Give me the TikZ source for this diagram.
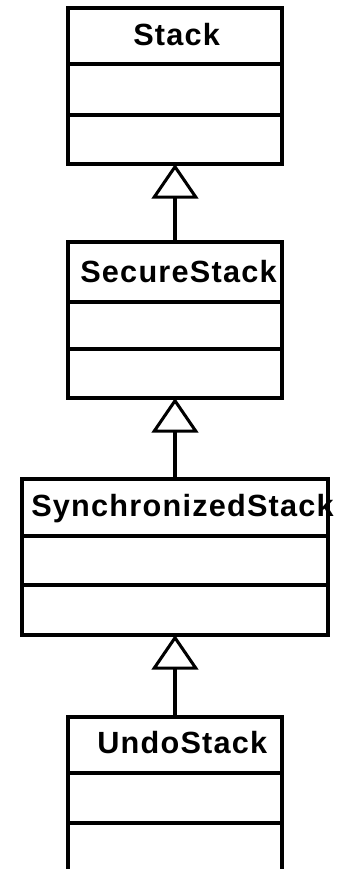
\documentclass[tikz,border=0pt]{standalone}
\usepackage{fontspec}
\setmainfont{Liberation Sans}
\newfontfamily\umlfont[LetterSpace=4]{Liberation Sans}
\usetikzlibrary{arrows.meta}
\tikzset{
  classbox/.style={draw, line width=2.3pt, outer sep=0pt, inner sep=0pt, minimum height=117pt},
  classname/.style={anchor=base west, inner sep=0pt, font=\umlfont\bfseries\fontsize{23pt}{23pt}\selectfont},
  compartment/.style={line width=2.3pt},
  inherit/.style={line width=2.3pt, -{Triangle[open, length=26pt, width=35pt]}}
}
\begin{document}
\begin{tikzpicture}[x=0.75pt,y=-0.75pt]
\clip (0,0) rectangle (344,869);
\node[classbox, minimum width=160.5pt] (stack)  at (175,86)  {};
\node[classbox, minimum width=160.5pt] (secure) at (175,320) {};
\node[classbox, minimum width=229.5pt] (sync)   at (175,557) {};
\node[classbox, minimum width=160.5pt] (undo)   at (175,795) {};
\draw[compartment] (stack.west |- 0,64)   -- (stack.east |- 0,64);
\draw[compartment] (stack.west |- 0,115)  -- (stack.east |- 0,115);
\draw[compartment] (secure.west |- 0,302) -- (secure.east |- 0,302);
\draw[compartment] (secure.west |- 0,349) -- (secure.east |- 0,349);
\draw[compartment] (sync.west |- 0,536)   -- (sync.east |- 0,536);
\draw[compartment] (sync.west |- 0,585)   -- (sync.east |- 0,585);
\draw[compartment] (undo.west |- 0,773)   -- (undo.east |- 0,773);
\draw[compartment] (undo.west |- 0,823)   -- (undo.east |- 0,823);
\node[classname] (stackname)  at (133,45)  {Stack};
\node[classname] (securename) at (80,282)  {SecureStack};
\node[classname] (syncname)   at (31,516)  {SynchronizedStack};
\node[classname] (undoname)   at (97,753)  {UndoStack};
\draw[inherit] (secure.north) -- (stack.south);
\draw[inherit] (sync.north)   -- (secure.south);
\draw[inherit] (undo.north)   -- (sync.south);
\end{tikzpicture}
\end{document}
